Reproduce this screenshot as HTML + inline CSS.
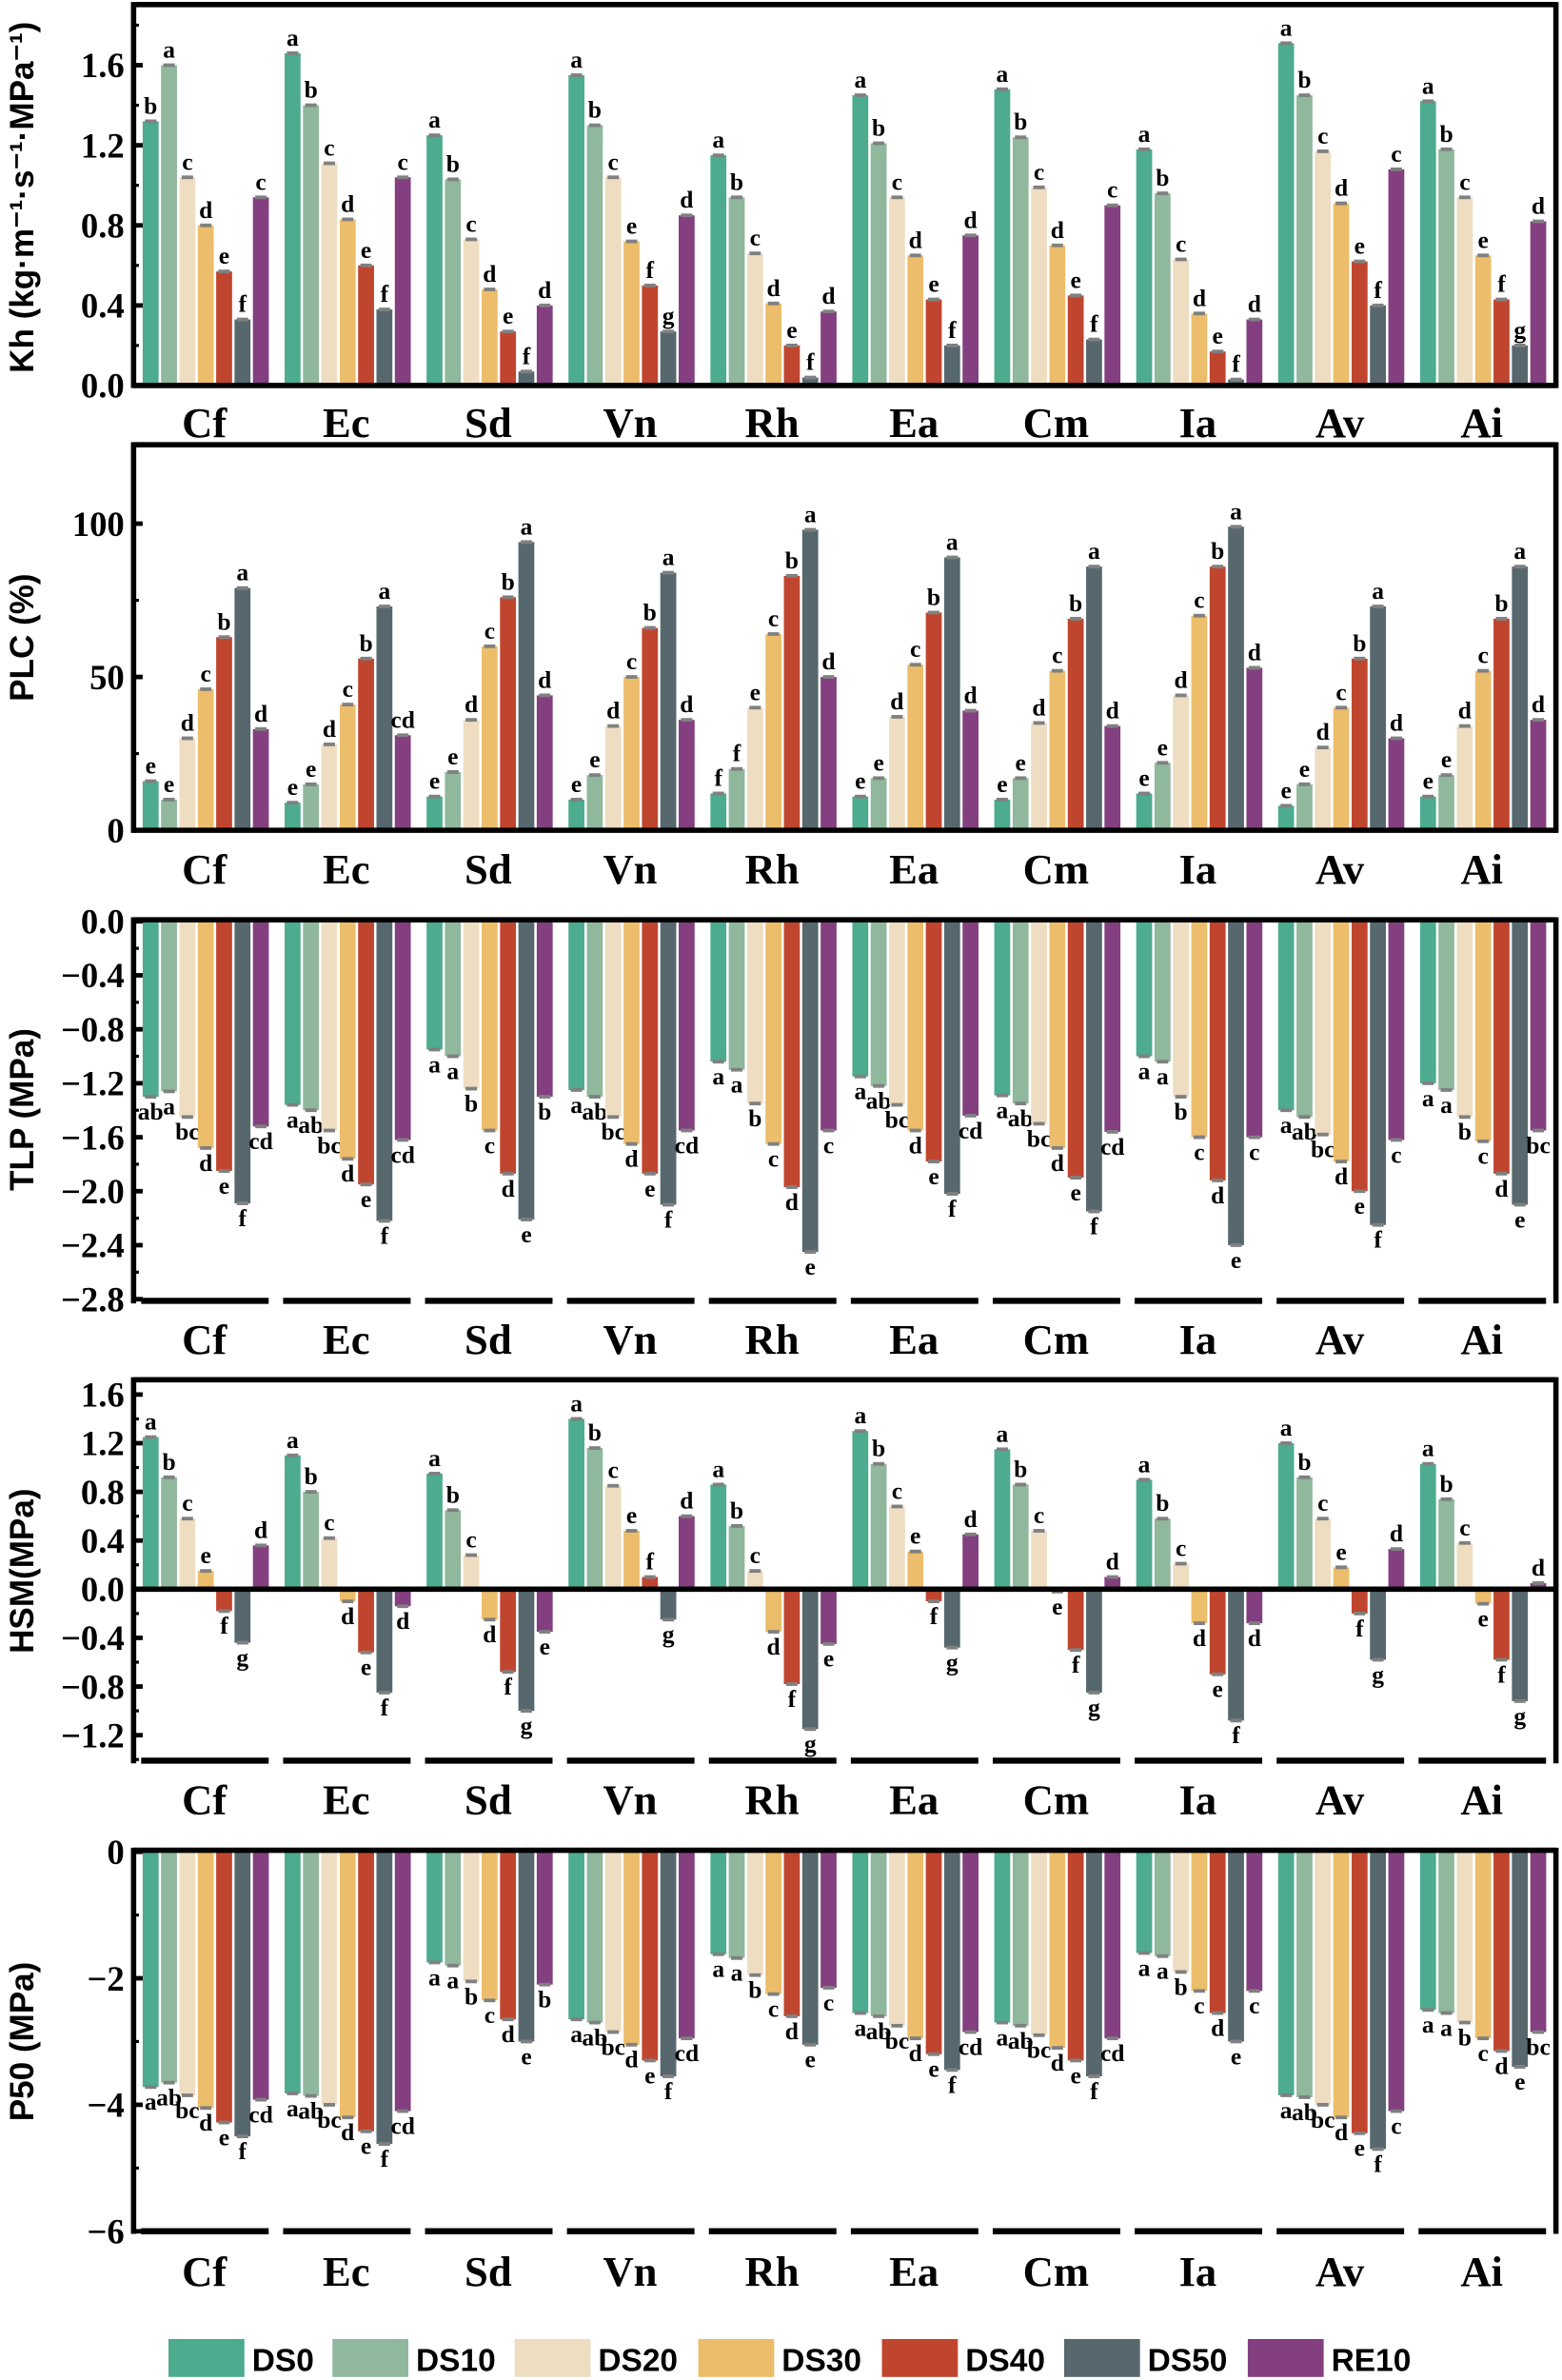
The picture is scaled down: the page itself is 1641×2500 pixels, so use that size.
<!DOCTYPE html>
<html><head><meta charset="utf-8"><style>
html,body{margin:0;padding:0;background:#fff;}
svg{display:block;}
.t{font-family:"Liberation Serif",serif;font-weight:bold;}
.s{font-family:"Liberation Sans",sans-serif;font-weight:bold;}
</style></head><body>
<svg id="c" width="1641" height="2500" viewBox="0 0 1029 1568" preserveAspectRatio="none" xmlns="http://www.w3.org/2000/svg">
<text class="s" font-size="22" transform="translate(22,130) rotate(-90)" text-anchor="middle">Kh (kg·m⁻¹·s⁻¹·MPa⁻¹)</text>
<text class="s" font-size="22" transform="translate(22,420) rotate(-90)" text-anchor="middle">PLC (%)</text>
<text class="s" font-size="22" transform="translate(22,731) rotate(-90)" text-anchor="middle">TLP (MPa)</text>
<text class="s" font-size="22" transform="translate(22,1035) rotate(-90)" text-anchor="middle">HSM(MPa)</text>
<text class="s" font-size="22" transform="translate(22,1345) rotate(-90)" text-anchor="middle">P50 (MPa)</text>
</svg>
<script>
var svg=document.getElementById('c');var NS='http://www.w3.org/2000/svg';
function el(n,a,txt){var e=document.createElementNS(NS,n);for(var k in a)e.setAttribute(k,a[k]);if(txt!=null)e.textContent=txt;svg.appendChild(e);return e;}
var cols=['#4dab8f','#8fb89c','#eeddc1','#ecbd6a','#c0452e','#56686e','#833f80'];
var groups=['Cf','Ec','Sd','Vn','Rh','Ea','Cm','Ia','Av','Ai'];
var gx0=94,gp=93.5,bp=12.1,bw=10.5,L=88,R=1025;
function P(s){return s.split(';').map(function(g){return g.trim().split(',').map(function(v){var p=v.trim().split(' ');return [parseFloat(p[0]),p[1]];});});}
var panels=[
{top:3,bot:254,zero:254,ppu:131.9,lab:279,full:true,ticks:[[0,'0.0'],[0.4,'0.4'],[0.8,'0.8'],[1.2,'1.2'],[1.6,'1.6']],minor:[0.2,0.6,1.0,1.4,1.8],
d:P("1.32 b,1.60 a,1.04 c,0.80 d,0.57 e,0.33 f,0.94 c;1.66 a,1.40 b,1.11 c,0.83 d,0.60 e,0.38 f,1.04 c;1.25 a,1.03 b,0.73 c,0.48 d,0.27 e,0.07 f,0.40 d;1.55 a,1.30 b,1.04 c,0.72 e,0.50 f,0.27 g,0.85 d;1.15 a,0.94 b,0.66 c,0.41 d,0.20 e,0.04 f,0.37 d;1.45 a,1.21 b,0.94 c,0.65 d,0.43 e,0.20 f,0.75 d;1.48 a,1.24 b,0.99 c,0.70 d,0.45 e,0.23 f,0.90 c;1.18 a,0.96 b,0.63 c,0.36 d,0.17 e,0.03 f,0.33 d;1.71 a,1.45 b,1.17 c,0.91 d,0.62 e,0.40 f,1.08 c;1.42 a,1.18 b,0.94 c,0.65 e,0.43 f,0.20 g,0.82 d")},
{top:293,bot:547,zero:547,ppu:2.02,lab:573,full:true,ticks:[[0,'0'],[50,'50'],[100,'100']],minor:[25,75],
d:P("16 e,10 e,30 d,46 c,63 b,79 a,33 d;9 e,15 e,28 d,41 c,56 b,73 a,31 cd;11 e,19 e,36 d,60 c,76 b,94 a,44 d;10 e,18 e,34 d,50 c,66 b,84 a,36 d;12 f,20 f,40 e,64 c,83 b,98 a,50 d;11 e,17 e,37 d,54 c,71 b,89 a,39 d;10 e,17 e,35 d,52 c,69 b,86 a,34 d;12 e,22 e,44 d,70 c,86 b,99 a,53 d;8 e,15 e,27 d,40 c,56 b,73 a,30 d;11 e,18 e,34 d,52 c,69 b,86 a,36 d")},
{top:606,bot:857,zero:607,ppu:88.9,lab:883,full:false,ticks:[[0,'0.0'],[-0.4,'−0.4'],[-0.8,'−0.8'],[-1.2,'−1.2'],[-1.6,'−1.6'],[-2.0,'−2.0'],[-2.4,'−2.4'],[-2.8,'−2.8']],minor:[-0.2,-0.6,-1.0,-1.4,-1.8,-2.2,-2.6],
d:P("-1.30 ab,-1.26 a,-1.45 bc,-1.68 d,-1.85 e,-2.09 f,-1.52 cd;-1.36 a,-1.40 ab,-1.55 bc,-1.76 d,-1.95 e,-2.22 f,-1.62 cd;-0.95 a,-1.00 a,-1.24 b,-1.55 c,-1.87 d,-2.21 e,-1.30 b;-1.25 a,-1.30 ab,-1.45 bc,-1.65 d,-1.87 e,-2.10 f,-1.55 cd;-1.04 a,-1.10 a,-1.35 b,-1.65 c,-1.97 d,-2.45 e,-1.55 c;-1.15 a,-1.22 ab,-1.36 bc,-1.55 d,-1.78 e,-2.02 f,-1.44 cd;-1.29 a,-1.35 ab,-1.50 bc,-1.68 d,-1.90 e,-2.15 f,-1.56 cd;-1.00 a,-1.04 a,-1.30 b,-1.60 c,-1.92 d,-2.40 e,-1.60 c;-1.40 a,-1.45 ab,-1.58 bc,-1.78 d,-2.00 e,-2.25 f,-1.62 c;-1.20 a,-1.25 a,-1.45 b,-1.63 c,-1.87 d,-2.10 e,-1.55 bc")},
{top:909,bot:1160,zero:1047,ppu:80.15,lab:1186,full:false,midzero:true,ticks:[[1.6,'1.6'],[1.2,'1.2'],[0.8,'0.8'],[0.4,'0.4'],[0,'0.0'],[-0.4,'−0.4'],[-0.8,'−0.8'],[-1.2,'−1.2']],minor:[1.4,1.0,0.6,0.2,-0.2,-0.6,-1.0,-1.4],
d:P("1.25 a,0.92 b,0.58 c,0.15 e,-0.18 f,-0.44 g,0.36 d;1.10 a,0.80 b,0.42 c,-0.10 d,-0.52 e,-0.85 f,-0.14 d;0.95 a,0.65 b,0.28 c,-0.25 d,-0.68 f,-1.00 g,-0.35 e;1.40 a,1.16 b,0.85 c,0.48 e,0.10 f,-0.25 g,0.60 d;0.86 a,0.52 b,0.15 c,-0.35 d,-0.78 f,-1.15 g,-0.45 e;1.30 a,1.03 b,0.68 c,0.31 e,-0.10 f,-0.48 g,0.45 d;1.15 a,0.86 b,0.48 c,-0.02 e,-0.50 f,-0.85 g,0.10 d;0.90 a,0.58 b,0.21 c,-0.28 d,-0.70 e,-1.08 f,-0.28 d;1.20 a,0.92 b,0.58 c,0.18 e,-0.20 f,-0.58 g,0.33 d;1.03 a,0.74 b,0.38 c,-0.12 e,-0.58 f,-0.92 g,0.05 d")},
{top:1219,bot:1470,zero:1220,ppu:41.67,lab:1497,full:false,ticks:[[0,'0'],[-2,'−2'],[-4,'−4'],[-6,'−6']],minor:[-1,-3,-5],
d:P("-3.72 a,-3.65 ab,-3.85 bc,-4.05 d,-4.28 e,-4.50 f,-3.92 cd;-3.82 a,-3.86 ab,-4.00 bc,-4.20 d,-4.42 e,-4.62 f,-4.10 cd;-1.75 a,-1.80 a,-2.05 b,-2.35 c,-2.65 d,-3.00 e,-2.10 b;-2.65 a,-2.70 ab,-2.85 bc,-3.05 d,-3.30 e,-3.55 f,-2.95 cd;-1.62 a,-1.68 a,-1.95 b,-2.25 c,-2.60 d,-3.05 e,-2.15 c;-2.55 a,-2.60 ab,-2.75 bc,-2.95 d,-3.20 e,-3.45 f,-2.85 cd;-2.70 a,-2.75 ab,-2.90 bc,-3.10 d,-3.30 e,-3.55 f,-2.95 cd;-1.60 a,-1.65 a,-1.90 b,-2.20 c,-2.55 d,-3.00 e,-2.20 c;-3.85 a,-3.88 ab,-4.00 bc,-4.20 d,-4.45 e,-4.70 f,-4.10 c;-2.50 a,-2.55 a,-2.70 b,-2.95 c,-3.15 d,-3.40 e,-2.85 bc")}
];
panels.forEach(function(p){
  p.d.forEach(function(g,gi){
    g.forEach(function(b,bi){
      var x=gx0+gi*gp+bi*bp,v=b[0],y=p.zero-v*p.ppu;
      var y1=Math.min(y,p.zero),h=Math.abs(y-p.zero);
      el('rect',{x:x,y:y1,width:bw,height:h,fill:cols[bi]});
      el('rect',{x:x+1.5,y:y-1.2,width:bw-3,height:2.4,fill:'#808080'});
      var cx=x+bw/2;
      if(v>=0) el('text',{x:cx,y:y-5,'text-anchor':'middle','font-size':16,class:'t'},b[1]);
      else el('text',{x:cx,y:y+15,'text-anchor':'middle','font-size':16,class:'t'},b[1]);
    });
    el('text',{x:gx0+gi*gp+40.6,y:p.lab+9,'text-anchor':'middle','font-size':28,class:'t'},groups[gi]);
  });
  var sw=3.5;
  el('line',{x1:L,y1:p.top,x2:R,y2:p.top,stroke:'#000','stroke-width':sw});
  el('line',{x1:L,y1:p.top-1.7,x2:L,y2:p.bot+1.7,stroke:'#000','stroke-width':sw});
  el('line',{x1:R,y1:p.top-1.7,x2:R,y2:p.bot+1.7,stroke:'#000','stroke-width':sw});
  if(p.full) el('line',{x1:L,y1:p.bot,x2:R,y2:p.bot,stroke:'#000','stroke-width':sw});
  else for(var gi=0;gi<10;gi++){var a=gx0+gi*gp-1;el('line',{x1:a,y1:p.bot,x2:a+84,y2:p.bot,stroke:'#000','stroke-width':sw+0.5});}
  if(p.midzero) el('line',{x1:L,y1:p.zero,x2:R,y2:p.zero,stroke:'#000','stroke-width':sw});
  p.ticks.forEach(function(t){var y=p.zero-t[0]*p.ppu;
    el('line',{x1:L,y1:y,x2:L+6,y2:y,stroke:'#000','stroke-width':3});
    el('text',{x:L-6,y:y+8,'text-anchor':'end','font-size':23,class:'t'},t[1]);});
  p.minor.forEach(function(t){var y=p.zero-t*p.ppu;if(y>p.top&&y<p.bot)
    el('line',{x1:L,y1:y,x2:L+3.5,y2:y,stroke:'#000','stroke-width':2});});
});
var lx=[111,219,339,460,581,701,822],ln=['DS0','DS10','DS20','DS30','DS40','DS50','RE10'];
lx.forEach(function(x,i){el('rect',{x:x,y:1541,width:50,height:25,fill:cols[i]});
 el('text',{x:x+55,y:1562,'font-size':21,class:'s'},ln[i]);});
</script>
</body></html>
